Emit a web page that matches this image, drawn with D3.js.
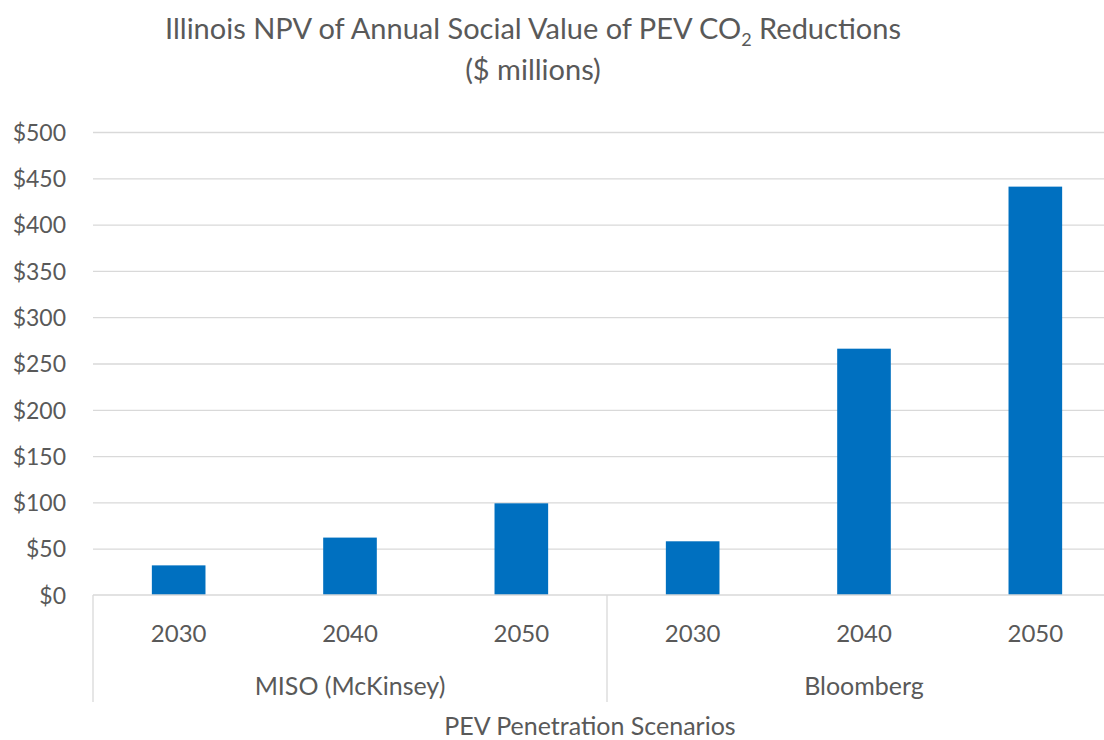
<!DOCTYPE html>
<html>
<head>
<meta charset="utf-8">
<script src="https://cdn.jsdelivr.net/npm/d3@7"></script>
<style>
  body { margin: 0; background: #fff; }
  svg { display: block; font-family: Lato, "Open Sans", sans-serif; }
</style>
</head>
<body>
<div id="svg-container"></div>
<script>
// data
const groups = ["MISO (McKinsey)", "Bloomberg"];
const years = ["2030", "2040", "2050"];
const misoValues = [32, 62, 99];
const bloombergValues = [58, 266, 441];
const yTicks = [0, 50, 100, 150, 200, 250, 300, 350, 400, 450, 500];

const seriesByGroup = { "MISO (McKinsey)": misoValues, "Bloomberg": bloombergValues };
const rows = groups.flatMap((g) =>
  years.map((y, i) => ({ group: g, year: y, value: seriesByGroup[g][i] }))
);

////////////////////////////  Init  ///////////////////////////////
const width = 1104;
const height = 740;
const plot = { left: 93, right: 1121, top: 132, bottom: 595 };
const textColor = "#595959";
const gridColor = "#d9d9d9";
const fontFamily = 'Lato, "Open Sans", sans-serif';

const svg = d3.select("#svg-container").append("svg")
  .attr("width", width).attr("height", height);

// scales
const xGroup = d3.scaleBand().domain(groups).range([plot.left, plot.right]);
const xYear = d3.scaleBand().domain(years)
  .range([0, xGroup.bandwidth()])
  .paddingInner(0.687).paddingOuter(0.3435);
const y = d3.scaleLinear().domain([0, 500]).range([plot.bottom, plot.top]);

// gridlines
svg.append("g")
  .attr("transform", `translate(${plot.left},0)`)
  .call(d3.axisLeft(y).tickValues(yTicks.slice(1)).tickSize(-(plot.right - plot.left)).tickFormat(""))
  .call((g) => g.select(".domain").remove())
  .call((g) => g.selectAll("line").attr("stroke", gridColor).attr("stroke-width", 1.3));

// y axis labels
svg.append("g")
  .attr("transform", `translate(${plot.left - 24},0)`)
  .call(d3.axisLeft(y).tickValues(yTicks).tickSize(0).tickFormat((d) => "$" + d))
  .attr("font-family", fontFamily)
  .attr("font-size", 23)
  .call((g) => g.select(".domain").remove())
  .call((g) => g.selectAll("text").attr("fill", textColor).attr("dy", "0.36em"));

// bars
svg.selectAll(".bar")
  .data(rows)
  .enter()
  .append("rect")
  .attr("class", "bar")
  .attr("x", (d) => xGroup(d.group) + xYear(d.year))
  .attr("y", (d) => y(d.value))
  .attr("width", xYear.bandwidth())
  .attr("height", (d) => y(0) - y(d.value))
  .attr("fill", "#0070c0");

// category axis (two levels)
const axisG = svg.append("g").attr("stroke", gridColor).attr("stroke-width", 1.3);
axisG.append("line")
  .attr("x1", plot.left).attr("x2", plot.right)
  .attr("y1", y(0)).attr("y2", y(0));
axisG.selectAll(".sep")
  .data(groups.concat([null]))
  .enter()
  .append("line")
  .attr("x1", (d) => (d ? xGroup(d) : plot.right))
  .attr("x2", (d) => (d ? xGroup(d) : plot.right))
  .attr("y1", y(0)).attr("y2", 702);

svg.selectAll(".year-label")
  .data(rows)
  .enter()
  .append("text")
  .attr("x", (d) => xGroup(d.group) + xYear(d.year) + xYear.bandwidth() / 2)
  .attr("y", 642)
  .attr("text-anchor", "middle")
  .attr("font-size", 24)
  .attr("fill", textColor)
  .text((d) => d.year);

svg.selectAll(".group-label")
  .data(groups)
  .enter()
  .append("text")
  .attr("x", (d) => xGroup(d) + xGroup.bandwidth() / 2)
  .attr("y", 695)
  .attr("text-anchor", "middle")
  .attr("font-size", 25)
  .attr("fill", textColor)
  .text((d) => d);

// axis title
svg.append("text")
  .attr("x", 590).attr("y", 735)
  .attr("text-anchor", "middle")
  .attr("font-size", 25)
  .attr("fill", textColor)
  .text("PEV Penetration Scenarios");

// chart title
const title = svg.append("text")
  .attr("x", 533).attr("y", 39)
  .attr("text-anchor", "middle")
  .attr("font-size", 29)
  .attr("fill", textColor);
title.append("tspan").text("Illinois NPV of Annual Social Value of PEV CO");
title.append("tspan").attr("font-size", 18).attr("dy", 7).text("2");
title.append("tspan").attr("dy", -7).text(" Reductions");

svg.append("text")
  .attr("x", 533).attr("y", 80)
  .attr("text-anchor", "middle")
  .attr("font-size", 29)
  .attr("fill", textColor)
  .text("($ millions)");
</script>
</body>
</html>
